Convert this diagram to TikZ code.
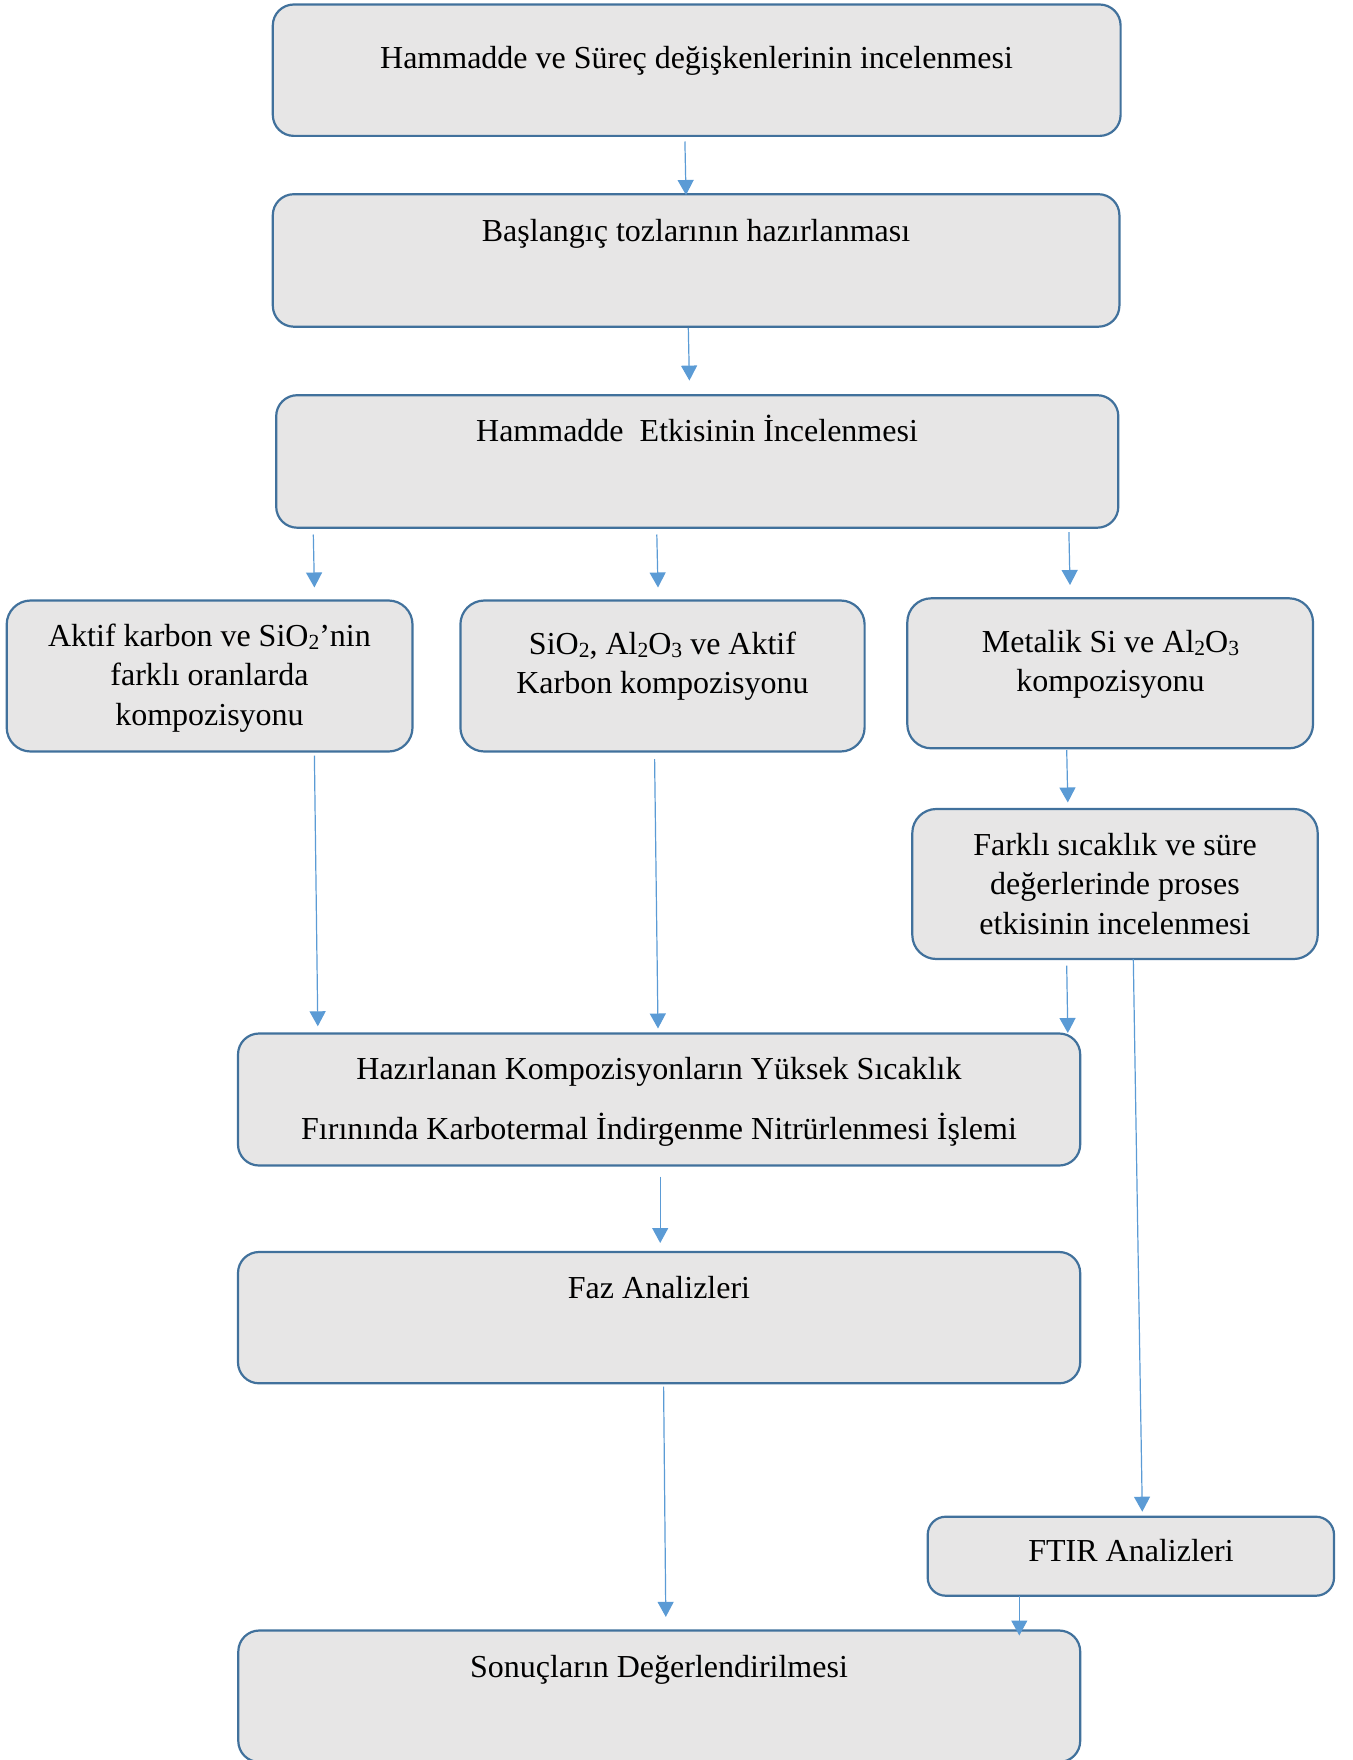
\documentclass[tikz,border=0pt]{standalone}
\usepackage{fontspec}
\setmainfont{Liberation Serif}
\usetikzlibrary{arrows.meta,fit}
\definecolor{boxfill}{HTML}{E7E6E6}
\definecolor{boxline}{HTML}{41719C}
\definecolor{arrline}{HTML}{5B9BD5}
\newcommand{\lowsub}[1]{\raisebox{-1.6pt}{\fontsize{10.8}{11}\selectfont #1}}
\begin{document}
\begin{tikzpicture}[x=0.5pt,y=-0.5pt,
  box/.style={draw=boxline, fill=boxfill, line width=1.1pt, inner sep=0pt, rounded corners=10.5pt},
  txt/.style={anchor=base, font=\fontsize{16}{19.6}\selectfont, align=center, inner sep=0pt},
  arr/.style={draw=arrline, line width=0.6pt, -{Triangle[width=8pt,length=7.5pt]}}]
\clip (0,0) rectangle (1353,1760);
% boxes
\node[box, fit={(272.8,4.5)(1120.6,135.9)}] (b1) {};
\node[box, fit={(272.8,194.2)(1119.4,326.7)}] (b2) {};
\node[box, fit={(276.2,395.2)(1118.3,527.7)}] (b3) {};
\node[box, rounded corners=12pt, fit={(6.7,600.5)(412.5,751.5)}] (b4) {};
\node[box, rounded corners=12pt, fit={(460.4,600.5)(864.6,751.5)}] (b5) {};
\node[box, rounded corners=12pt, fit={(907.3,598.3)(1313,748.3)}] (b6) {};
\node[box, rounded corners=12pt, fit={(912.3,809)(1317.7,959)}] (b7) {};
\node[box, fit={(238,1033.5)(1080.2,1165.5)}] (b8) {};
\node[box, fit={(238,1252)(1080.2,1383.3)}] (b9) {};
\node[box, rounded corners=9pt, fit={(927.7,1516.7)(1334,1595.7)}] (b10) {};
\node[box, fit={(238.3,1630.5)(1080.2,1762)}] (b11) {};
% texts (anchor = baseline of the last line)
\node[txt] (t1) at (696.5,69) {Hammadde ve Süreç değişkenlerinin incelenmesi};
\node[txt] (t2) at (696,242) {Başlangıç tozlarının hazırlanması};
\node[txt] (t3) at (697,441) {Hammadde\ \ Etkisinin İncelenmesi};
\node[txt] (t4) at (209.5,725) {Aktif karbon ve SiO\lowsub{2}’nin\\farklı oranlarda\\kompozisyonu};
\node[txt] (t5) at (662.5,693.3) {SiO\lowsub{2}, Al\lowsub{2}O\lowsub{3} ve Aktif\\Karbon kompozisyonu};
\node[txt] (t6) at (1110.5,691.7) {Metalik Si ve Al\lowsub{2}O\lowsub{3}\\kompozisyonu};
\node[txt] (t7) at (1115,934) {Farklı sıcaklık ve süre\\değerlerinde proses\\etkisinin incelenmesi};
\node[txt, font=\fontsize{16}{29.7}\selectfont] (t8) at (659,1139.3) {Hazırlanan Kompozisyonların Yüksek Sıcaklık\\Fırınında Karbotermal İndirgenme Nitrürlenmesi İşlemi};
\node[txt] (t9) at (659,1298) {Faz Analizleri};
\node[txt] (t10) at (1131,1561) {FTIR Analizleri};
\node[txt] (t11) at (659,1677) {Sonuçların Değerlendirilmesi};
% arrow end points
\coordinate (a1s) at (684.9,141.5);  \coordinate (a1e) at (686,195);
\coordinate (a2s) at (688.3,327.9);  \coordinate (a2e) at (689.4,380.6);
\coordinate (a3s) at (313.3,534.5);  \coordinate (a3e) at (314.4,587.5);
\coordinate (a4s) at (656.8,534.5);  \coordinate (a4e) at (658,587.5);
\coordinate (a5s) at (1068.9,532.2); \coordinate (a5e) at (1070,585);
\coordinate (a6s) at (1066.7,750);   \coordinate (a6e) at (1067.8,802.5);
\coordinate (a7s) at (314.4,755.7);  \coordinate (a7e) at (317.8,1026.3);
\coordinate (a8s) at (654.6,759);    \coordinate (a8e) at (658,1028.5);
\coordinate (a9s) at (1066.7,965.6); \coordinate (a9e) at (1067.8,1033);
\coordinate (a10s) at (1133.3,959);  \coordinate (a10e) at (1142.3,1511.7);
\coordinate (a11s) at (660.2,1176.7); \coordinate (a11e) at (660.2,1243);
\coordinate (a12s) at (663.6,1386.7); \coordinate (a12e) at (665.8,1616.9);
\coordinate (a13s) at (1019.3,1595.7); \coordinate (a13e) at (1019.3,1635.5);
\foreach \i in {1,...,13} {\draw[arr] (a\i s) -- (a\i e);}
\end{tikzpicture}
\end{document}
